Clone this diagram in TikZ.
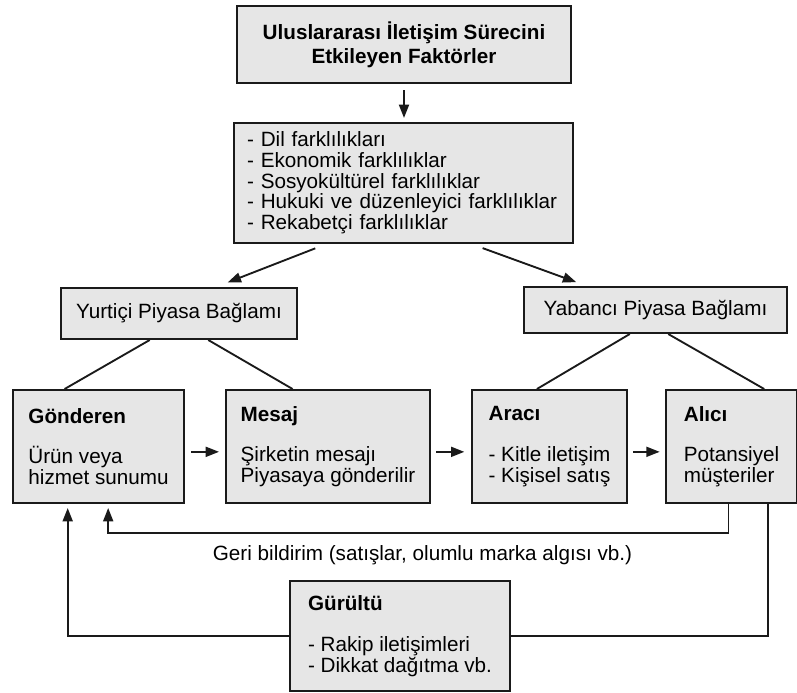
\documentclass[tikz,border=0pt]{standalone}
\usepackage{fontspec}
\setmainfont{Liberation Sans}
\usetikzlibrary{calc,arrows.meta}
\definecolor{boxgray}{HTML}{E6E6E6}
\definecolor{inkx}{HTML}{1A1A1A}
\tikzset{
  ar/.style={-{Triangle[length=10pt,width=7.5pt]},line width=1.4pt,inkx},
  ln/.style={line width=1.4pt,inkx},
  box/.style={draw=inkx,line width=1.5pt,fill=boxgray,inner sep=0pt,font=\fontsize{15.5}{15.5}\selectfont},
  stage/.style={box,align=left,minimum height=84.75pt}
}
\begin{document}
\begin{tikzpicture}[x=0.75pt,y=-0.75pt]
\useasboundingbox (0,0) rectangle (797,693);
\node[box,align=center,minimum width=250.5pt,minimum height=57.75pt,font=\fontsize{15.5}{18}\selectfont\bfseries] (title) at (404,44.5) {Uluslararası İletişim Sürecini\\Etkileyen Faktörler};
\node[box,align=left,text width=234.75pt,inner xsep=9.75pt,minimum height=90pt] (diff) at (403.5,183) {- Dil farklılıkları\\- Ekonomik farklılıklar\\- Sosyokültürel farklılıklar\\- Hukuki ve düzenleyici farklılıklar\\- Rekabetçi farklılıklar};
\node[box,minimum width=177pt,minimum height=38.25pt] (yurt) at (179,313.5) {Yurtiçi Piyasa Bağlamı};
\node[box,minimum width=197.25pt,minimum height=34.5pt] (yab) at (655.5,310) {Yabancı Piyasa Bağlamı};
\node[stage,minimum width=128.25pt] (gon) at (98.5,446.5) {\textbf{Gönderen}\\[15pt]Ürün veya\\hizmet sunumu};
\node[stage,minimum width=153pt] (mes) at (328,446.5) {\textbf{Mesaj}\\[15pt]Şirketin mesajı\\Piyasaya gönderilir};
\node[stage,minimum width=116.25pt] (ara) at (549.5,446.5) {\textbf{Aracı}\\[15pt]- Kitle iletişim\\- Kişisel satış};
\node[stage,minimum width=98.25pt] (alc) at (731.5,446.5) {\textbf{Alıcı}\\[15pt]Potansiyel\\müşteriler};
\node[stage,minimum width=165pt,minimum height=82.5pt] (gur) at (400,636) {\textbf{Gürültü}\\[15pt]- Rakip iletişimleri\\- Dikkat dağıtma vb.};
\node[font=\fontsize{15.5}{15.5}\selectfont] (fbtxt) at (422.5,555) {Geri bildirim (satışlar, olumlu marka algısı vb.)};

\draw[ar,shorten <=4.5pt,shorten >=3pt] (title.south) -- (title.south |- diff.north);
\draw[ar,shorten <=9pt,shorten >=9.5pt] ($(diff.south west)!0.274!(diff.south east)$) -- ($(yurt.north west)!0.655!(yurt.north east)$);
\draw[ar,shorten <=9pt,shorten >=8.5pt] ($(diff.south west)!0.699!(diff.south east)$) -- ($(yab.north west)!0.241!(yab.north east)$);

\draw[ln] ($(yurt.south west)!0.377!(yurt.south east)$) -- ($(gon.north west)!0.304!(gon.north east)$);
\draw[ln] ($(yurt.south west)!0.623!(yurt.south east)$) -- ($(mes.north west)!0.328!(mes.north east)$);
\draw[ln] ($(yab.south west)!0.403!(yab.south east)$) -- ($(ara.north west)!0.42!(ara.north east)$);
\draw[ln] ($(yab.south west)!0.548!(yab.south east)$) -- ($(alc.north west)!0.746!(alc.north east)$);

\draw[ar,shorten <=4.5pt,shorten >=4.5pt] ([yshift=-4pt]gon.east) -- ([yshift=-4pt]mes.west);
\draw[ar,shorten <=4pt,shorten >=5pt] ([yshift=-4pt]mes.east) -- ([yshift=-4pt]ara.west);
\draw[ar,shorten <=4pt,shorten >=4pt] ([yshift=-4pt]ara.east) -- ([yshift=-4pt]alc.west);

\coordinate (fb) at (0,533);
\coordinate (fbA) at ($(alc.south west)!0.477!(alc.south east)$);
\coordinate (fbG) at ($(gon.south west)!0.556!(gon.south east)$);
\coordinate (nzA) at ($(alc.south west)!0.777!(alc.south east)$);
\coordinate (nzG) at ($(gon.south west)!0.322!(gon.south east)$);
\draw[ar,shorten >=3pt] (fbA) -- (fbA |- fb) -| (fbG);
\draw[ln] (nzA) |- (gur.east);
\draw[ar,shorten >=3pt] (gur.west) -| (nzG);
\end{tikzpicture}
\end{document}
